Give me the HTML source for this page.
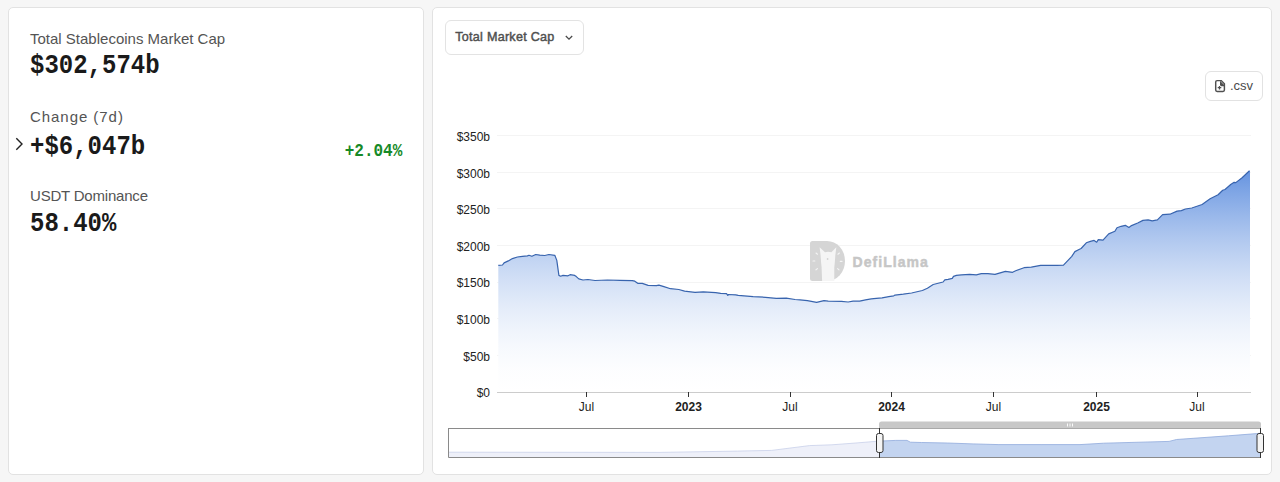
<!DOCTYPE html>
<html><head><meta charset="utf-8">
<style>
html,body{margin:0;padding:0;width:1280px;height:482px;overflow:hidden;background:#f6f6f6;font-family:"Liberation Sans",sans-serif;}
.card{position:absolute;background:#fff;border:1px solid #e2e2e2;border-radius:5px;box-sizing:border-box;}
.t{position:absolute;white-space:nowrap;}
.lbl{font-size:15px;color:#545454;}
.val{font-family:"Liberation Mono",monospace;font-weight:bold;font-size:24px;color:#1a1a1a;transform:scaleY(1.12);transform-origin:0 0;}
</style></head><body>
<div class="card" style="left:8px;top:7px;width:416px;height:468px;"></div>
<div class="card" style="left:432px;top:7px;width:840px;height:468px;"></div>

<div class="t lbl" style="left:30px;top:30px;">Total Stablecoins Market Cap</div>
<div class="t val" style="left:30px;top:51px;">$302,574b</div>
<div class="t lbl" style="left:30px;top:108px;letter-spacing:0.95px;">Change (7d)</div>
<div class="t val" style="left:30px;top:132px;">+$6,047b</div>
<div class="t" style="left:344.7px;top:140.6px;font-family:'Liberation Mono',monospace;font-weight:bold;font-size:16px;color:#178a27;transform:scaleY(1.12);transform-origin:0 0;">+2.04%</div>
<div class="t lbl" style="left:30px;top:187px;letter-spacing:-0.2px;">USDT Dominance</div>
<div class="t val" style="left:30px;top:209px;">58.40%</div>

<div class="card" style="left:445px;top:20px;width:139px;height:35px;border-color:#e3e3e3;border-radius:6px;"></div>
<div class="t" style="left:455.3px;top:30.4px;font-size:12.6px;font-weight:normal;-webkit-text-stroke:0.45px #505050;color:#505050;letter-spacing:0.25px;">Total Market Cap</div>

<div class="card" style="left:1205px;top:71px;width:58px;height:30px;border-radius:6px;"></div>
<div class="t" style="left:1230px;top:78px;font-size:13px;color:#4a4a4a;">.csv</div>

<svg width="1280" height="482" style="position:absolute;left:0;top:0;">
<defs>
<linearGradient id="g" x1="0" y1="171" x2="0" y2="392" gradientUnits="userSpaceOnUse">
<stop offset="0.00" stop-color="#6694e0" stop-opacity="1.000"/>
<stop offset="0.10" stop-color="#6694e0" stop-opacity="0.827"/>
<stop offset="0.20" stop-color="#6694e0" stop-opacity="0.669"/>
<stop offset="0.30" stop-color="#6694e0" stop-opacity="0.526"/>
<stop offset="0.40" stop-color="#6694e0" stop-opacity="0.399"/>
<stop offset="0.50" stop-color="#6694e0" stop-opacity="0.287"/>
<stop offset="0.60" stop-color="#6694e0" stop-opacity="0.192"/>
<stop offset="0.70" stop-color="#6694e0" stop-opacity="0.115"/>
<stop offset="0.80" stop-color="#6694e0" stop-opacity="0.055"/>
<stop offset="0.90" stop-color="#6694e0" stop-opacity="0.016"/>
<stop offset="1.00" stop-color="#6694e0" stop-opacity="0.000"/>
</linearGradient>
</defs>
<!-- chevrons -->
<path d="M16.3,138.2 L22,144 L16.3,149.8" fill="none" stroke="#222" stroke-width="1.4"/>
<path d="M565.8,36 L569,39.2 L572.2,36" fill="none" stroke="#4a4a4a" stroke-width="1.3"/>
<!-- grid -->
<g stroke="#f4f4f4" stroke-width="1">
<path d="M497,135.5 H1251 M497,172.5 H1251 M497,208.5 H1251 M497,245.5 H1251 M497,282.5 H1251 M497,318.5 H1251 M497,355.5 H1251"/>
</g>
<g font-family="Liberation Sans" font-size="12" fill="#222" text-anchor="end">
<text x="490" y="141">$350b</text>
<text x="490" y="178">$300b</text>
<text x="490" y="214">$250b</text>
<text x="490" y="251">$200b</text>
<text x="490" y="287">$150b</text>
<text x="490" y="324">$100b</text>
<text x="490" y="361">$50b</text>
<text x="490" y="397">$0</text>
</g>
<!-- watermark -->
<g>
<path d="M810,243.5 Q810,241 812.5,241 H827 A18,20 0 0 1 827,281 H812.5 Q810,281 810,278.5 Z" fill="#d5d5d5"/>
<path d="M819.6,247.3 L825,252.2 Q828,251.4 831.4,252.2 L836.3,247.3 L835.3,255.6 L834.8,262.4 L834.3,267.3 L834.3,281 L822.1,281 L821.6,267.3 L821.1,262.4 L820.6,255.6 Z" fill="#f5f5f5"/>
<circle cx="827.6" cy="259" r="0.9" fill="#d3d3d3"/>
<g stroke="#f4f4f4" stroke-width="1.1" stroke-linecap="round">
<path d="M816,253 L817.5,254.2 M813,261 L814.8,261 M816,269.8 L817.5,268.6 M839.4,253 L837.9,254.2 M842,261.4 L840.3,261.4 M839,269.8 L837.6,268.6"/>
</g>
</g>
<text x="852.5" y="267" font-family="Liberation Sans" font-weight="bold" font-size="14" fill="#c6c6c6" stroke="#c6c6c6" stroke-width="0.45" style="font-variant-ligatures:none" letter-spacing="1.05">DefiLlama</text>
<path d="M498.3,265.4 L502.5,265.0 L504.1,262.9 L508.3,260.9 L512.4,258.6 L517.4,257.0 L522.4,256.3 L527.4,255.9 L529.0,255.3 L531.9,256.3 L535.7,254.5 L539.8,255.1 L544.8,255.5 L548.9,254.5 L554.8,255.3 L556.8,260.4 L558.9,275.4 L560.6,276.2 L563.0,275.4 L568.0,275.8 L570.1,274.7 L574.7,275.4 L576.3,276.6 L578.8,278.9 L583.0,280.0 L587.9,279.5 L595.0,280.5 L607.4,280.0 L619.9,280.4 L632.3,280.6 L634.8,281.2 L637.7,283.3 L642.3,283.4 L648.1,285.4 L656.4,285.6 L658.9,285.1 L663.9,286.6 L670.5,288.7 L678.8,289.5 L684.6,291.2 L695.0,292.4 L703.3,291.8 L715.7,292.6 L720.7,293.4 L726.5,293.7 L727.8,295.4 L728.2,294.5 L735.7,294.8 L738.2,295.4 L753.1,296.6 L765.5,297.3 L776.3,298.3 L786.3,298.1 L795.0,299.5 L800.0,299.8 L807.4,300.7 L816.6,302.4 L824.0,300.6 L828.2,301.2 L841.5,301.4 L848.1,302.0 L853.1,301.2 L859.7,301.2 L865.5,299.9 L871.3,298.9 L876.3,298.3 L882.1,297.8 L888.8,296.6 L893.8,295.8 L895.0,295.1 L903.3,294.2 L911.6,293.0 L922.4,290.5 L927.4,288.2 L933.2,284.5 L943.1,282.0 L944.8,279.8 L948.1,279.3 L952.3,278.4 L953.5,276.4 L956.4,275.4 L961.4,274.9 L969.7,274.3 L976.3,274.8 L981.3,273.7 L987.9,273.7 L995.0,274.4 L1005.4,271.3 L1012.6,272.3 L1015.7,270.8 L1024.0,267.7 L1031.3,267.2 L1040.6,265.3 L1057.2,265.3 L1063.5,265.1 L1071.8,256.3 L1074.9,251.6 L1079.0,249.5 L1081.1,248.5 L1086.3,242.8 L1090.4,241.4 L1094.1,240.4 L1096.7,242.2 L1098.3,239.6 L1103.0,240.1 L1108.7,233.9 L1114.9,231.3 L1117.0,227.7 L1121.1,226.3 L1125.3,225.3 L1128.9,227.4 L1131.5,225.6 L1137.7,223.0 L1142.9,220.4 L1148.1,219.9 L1152.2,220.9 L1157.4,219.9 L1162.6,214.7 L1169.9,214.2 L1177.1,211.1 L1181.3,210.6 L1185.4,209.0 L1191.8,208.0 L1202.1,204.5 L1210.1,198.8 L1218.1,194.8 L1222.7,190.3 L1225.0,189.5 L1230.7,184.5 L1234.1,182.3 L1235.8,182.6 L1242.1,177.7 L1249.5,170.8 L1250,170.8 L1250,392 L498.3,392 Z" fill="#fff"/>
<path d="M498.3,265.4 L502.5,265.0 L504.1,262.9 L508.3,260.9 L512.4,258.6 L517.4,257.0 L522.4,256.3 L527.4,255.9 L529.0,255.3 L531.9,256.3 L535.7,254.5 L539.8,255.1 L544.8,255.5 L548.9,254.5 L554.8,255.3 L556.8,260.4 L558.9,275.4 L560.6,276.2 L563.0,275.4 L568.0,275.8 L570.1,274.7 L574.7,275.4 L576.3,276.6 L578.8,278.9 L583.0,280.0 L587.9,279.5 L595.0,280.5 L607.4,280.0 L619.9,280.4 L632.3,280.6 L634.8,281.2 L637.7,283.3 L642.3,283.4 L648.1,285.4 L656.4,285.6 L658.9,285.1 L663.9,286.6 L670.5,288.7 L678.8,289.5 L684.6,291.2 L695.0,292.4 L703.3,291.8 L715.7,292.6 L720.7,293.4 L726.5,293.7 L727.8,295.4 L728.2,294.5 L735.7,294.8 L738.2,295.4 L753.1,296.6 L765.5,297.3 L776.3,298.3 L786.3,298.1 L795.0,299.5 L800.0,299.8 L807.4,300.7 L816.6,302.4 L824.0,300.6 L828.2,301.2 L841.5,301.4 L848.1,302.0 L853.1,301.2 L859.7,301.2 L865.5,299.9 L871.3,298.9 L876.3,298.3 L882.1,297.8 L888.8,296.6 L893.8,295.8 L895.0,295.1 L903.3,294.2 L911.6,293.0 L922.4,290.5 L927.4,288.2 L933.2,284.5 L943.1,282.0 L944.8,279.8 L948.1,279.3 L952.3,278.4 L953.5,276.4 L956.4,275.4 L961.4,274.9 L969.7,274.3 L976.3,274.8 L981.3,273.7 L987.9,273.7 L995.0,274.4 L1005.4,271.3 L1012.6,272.3 L1015.7,270.8 L1024.0,267.7 L1031.3,267.2 L1040.6,265.3 L1057.2,265.3 L1063.5,265.1 L1071.8,256.3 L1074.9,251.6 L1079.0,249.5 L1081.1,248.5 L1086.3,242.8 L1090.4,241.4 L1094.1,240.4 L1096.7,242.2 L1098.3,239.6 L1103.0,240.1 L1108.7,233.9 L1114.9,231.3 L1117.0,227.7 L1121.1,226.3 L1125.3,225.3 L1128.9,227.4 L1131.5,225.6 L1137.7,223.0 L1142.9,220.4 L1148.1,219.9 L1152.2,220.9 L1157.4,219.9 L1162.6,214.7 L1169.9,214.2 L1177.1,211.1 L1181.3,210.6 L1185.4,209.0 L1191.8,208.0 L1202.1,204.5 L1210.1,198.8 L1218.1,194.8 L1222.7,190.3 L1225.0,189.5 L1230.7,184.5 L1234.1,182.3 L1235.8,182.6 L1242.1,177.7 L1249.5,170.8 L1250,170.8 L1250,392 L498.3,392 Z" fill="url(#g)"/>
<path d="M498.3,265.4 L502.5,265.0 L504.1,262.9 L508.3,260.9 L512.4,258.6 L517.4,257.0 L522.4,256.3 L527.4,255.9 L529.0,255.3 L531.9,256.3 L535.7,254.5 L539.8,255.1 L544.8,255.5 L548.9,254.5 L554.8,255.3 L556.8,260.4 L558.9,275.4 L560.6,276.2 L563.0,275.4 L568.0,275.8 L570.1,274.7 L574.7,275.4 L576.3,276.6 L578.8,278.9 L583.0,280.0 L587.9,279.5 L595.0,280.5 L607.4,280.0 L619.9,280.4 L632.3,280.6 L634.8,281.2 L637.7,283.3 L642.3,283.4 L648.1,285.4 L656.4,285.6 L658.9,285.1 L663.9,286.6 L670.5,288.7 L678.8,289.5 L684.6,291.2 L695.0,292.4 L703.3,291.8 L715.7,292.6 L720.7,293.4 L726.5,293.7 L727.8,295.4 L728.2,294.5 L735.7,294.8 L738.2,295.4 L753.1,296.6 L765.5,297.3 L776.3,298.3 L786.3,298.1 L795.0,299.5 L800.0,299.8 L807.4,300.7 L816.6,302.4 L824.0,300.6 L828.2,301.2 L841.5,301.4 L848.1,302.0 L853.1,301.2 L859.7,301.2 L865.5,299.9 L871.3,298.9 L876.3,298.3 L882.1,297.8 L888.8,296.6 L893.8,295.8 L895.0,295.1 L903.3,294.2 L911.6,293.0 L922.4,290.5 L927.4,288.2 L933.2,284.5 L943.1,282.0 L944.8,279.8 L948.1,279.3 L952.3,278.4 L953.5,276.4 L956.4,275.4 L961.4,274.9 L969.7,274.3 L976.3,274.8 L981.3,273.7 L987.9,273.7 L995.0,274.4 L1005.4,271.3 L1012.6,272.3 L1015.7,270.8 L1024.0,267.7 L1031.3,267.2 L1040.6,265.3 L1057.2,265.3 L1063.5,265.1 L1071.8,256.3 L1074.9,251.6 L1079.0,249.5 L1081.1,248.5 L1086.3,242.8 L1090.4,241.4 L1094.1,240.4 L1096.7,242.2 L1098.3,239.6 L1103.0,240.1 L1108.7,233.9 L1114.9,231.3 L1117.0,227.7 L1121.1,226.3 L1125.3,225.3 L1128.9,227.4 L1131.5,225.6 L1137.7,223.0 L1142.9,220.4 L1148.1,219.9 L1152.2,220.9 L1157.4,219.9 L1162.6,214.7 L1169.9,214.2 L1177.1,211.1 L1181.3,210.6 L1185.4,209.0 L1191.8,208.0 L1202.1,204.5 L1210.1,198.8 L1218.1,194.8 L1222.7,190.3 L1225.0,189.5 L1230.7,184.5 L1234.1,182.3 L1235.8,182.6 L1242.1,177.7 L1249.5,170.8" fill="none" stroke="#3864ae" stroke-width="1.2" stroke-linejoin="round"/>
<!-- x axis -->
<path d="M497,392.5 H1251" stroke="#ccc" stroke-width="1"/>
<g stroke="#333" stroke-width="1">
<path d="M586.5,392 V397 M688.5,392 V397 M790.5,392 V397 M891.5,392 V397 M993.5,392 V397 M1096.5,392 V397 M1197.5,392 V397"/>
</g>
<g font-family="Liberation Sans" font-size="12" fill="#222" text-anchor="middle">
<text x="586.5" y="411">Jul</text>
<text x="688.5" y="411" font-weight="bold">2023</text>
<text x="790" y="411">Jul</text>
<text x="891.5" y="411" font-weight="bold">2024</text>
<text x="993.5" y="411">Jul</text>
<text x="1096.5" y="411" font-weight="bold">2025</text>
<text x="1197" y="411">Jul</text>
</g>
<!-- navigator -->
<path d="M448.5,452.2 L660,452.4 L737.3,451.1 L771.7,450.4 L809.5,445.6 L831.9,444.8 L855.9,443 L876.6,441.3 L879.5,441.1 L879.5,457 L448.5,457 Z" fill="#eef0f9"/>
<path d="M879.5,441.1 L895.8,440.4 L907,440.4 L910.4,442.2 L921.6,442.5 L947.3,443 L973.1,443.9 L998.9,444.6 L1041.9,444.6 L1080,444.6 L1103.7,443.2 L1169.1,441.4 L1176.5,439.5 L1228.4,435.8 L1256.6,433.6 L1260,433.3 L1260,457 L879.5,457 Z" fill="#c3d4f0"/>
<path d="M448.5,452.2 L660,452.4 L737.3,451.1 L771.7,450.4 L809.5,445.6 L831.9,444.8 L855.9,443 L876.6,441.3 L879.5,441.1" fill="none" stroke="#c9d0ea" stroke-width="0.8"/>
<path d="M879.5,441.1 L895.8,440.4 L907,440.4 L910.4,442.2 L921.6,442.5 L947.3,443 L973.1,443.9 L998.9,444.6 L1041.9,444.6 L1080,444.6 L1103.7,443.2 L1169.1,441.4 L1176.5,439.5 L1228.4,435.8 L1256.6,433.6 L1260,433.3" fill="none" stroke="#8fa9dc" stroke-width="0.8"/>
<path d="M448.5,428.5 H1260 M448.5,428 V457.5 H1260" fill="none" stroke="#8a8a8a" stroke-width="1"/>
<path d="M879,428.5 V424 Q879,421.5 881.5,421.5 H1258.5 Q1261,421.5 1261,424 V428.5 Z" fill="#c8c8c8"/>
<path d="M1067.5,423.5 V426.5 M1070,423.5 V426.5 M1072.5,423.5 V426.5" stroke="#fff" stroke-width="0.9"/>
<path d="M879.5,428 V458 M1260.5,428 V458" stroke="#333" stroke-width="1"/>
<rect x="876.5" y="433.5" width="6.5" height="19" rx="2" fill="#f4f4f4" stroke="#333" stroke-width="1"/>
<rect x="1257" y="433.5" width="6.5" height="19" rx="2" fill="#f4f4f4" stroke="#333" stroke-width="1"/>
<!-- csv icon -->
<path d="M1217.1,80.6 H1221.3 L1224.4,83.7 V90.1 Q1224.4,91.5 1223,91.5 H1217.1 Q1215.7,91.5 1215.7,90.1 V82 Q1215.7,80.6 1217.1,80.6 Z" fill="none" stroke="#505050" stroke-width="1.45"/>
<path d="M1220,80.8 L1224.2,85 V86.2 H1221.4 Q1220,86.2 1220,84.8 Z" fill="#505050"/>
<path d="M1219.5,85.9 V89.5 M1217.7,87.7 H1221.3" stroke="#505050" stroke-width="1.3"/>
</svg>
</body></html>
